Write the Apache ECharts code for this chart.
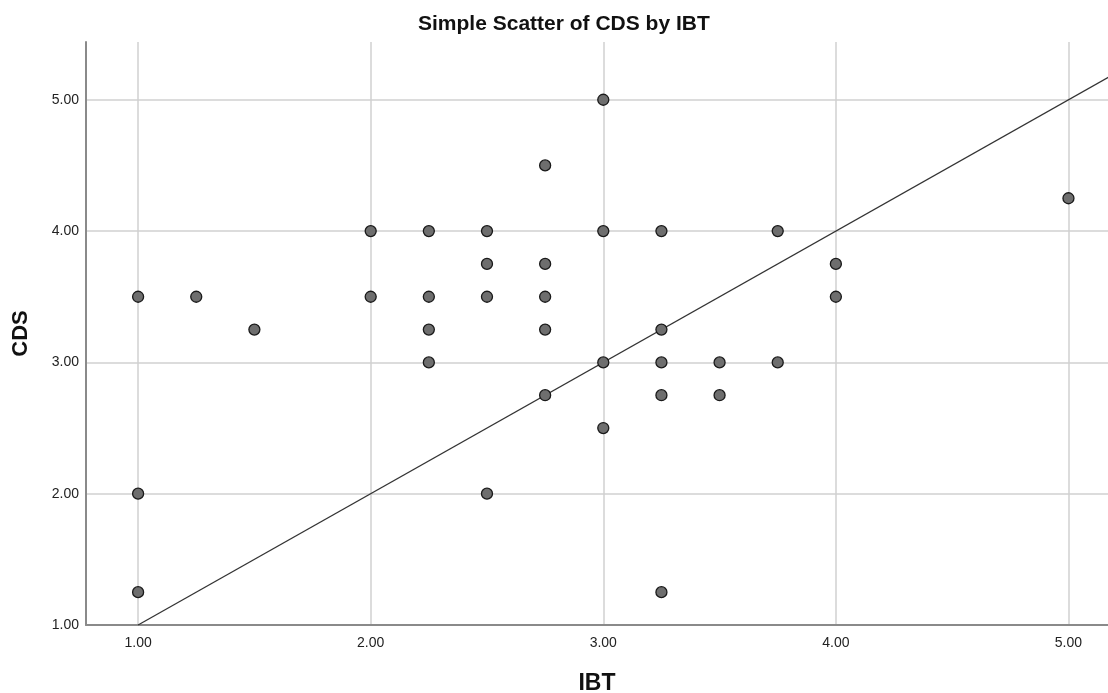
<!DOCTYPE html>
<html>
<head>
<meta charset="utf-8">
<script src="https://cdn.jsdelivr.net/npm/echarts@6/dist/echarts.min.js"></script>
<style>
    html,body{margin:0;padding:0;background:#fff;}
    #chart{width:1108px;height:693px;}
</style>
</head>
<body>
<div id="chart"></div>
<script>
    // 数据
    var ibt = [1, 1, 1, 1.25, 1.5, 2, 2, 2.25, 2.25, 2.25, 2.25, 2.5, 2.5, 2.5, 2.5,
        2.75, 2.75, 2.75, 2.75, 2.75, 3, 3, 3, 3, 3.25, 3.25, 3.25, 3.25, 3.25,
        3.5, 3.5, 3.75, 3.75, 4, 4, 5];
    var cds = [3.5, 2, 1.25, 3.5, 3.25, 4, 3.5, 4, 3.5, 3.25, 3, 4, 3.75, 3.5, 2,
        4.5, 3.75, 3.5, 3.25, 2.75, 5, 4, 3, 2.5, 4, 3.25, 3, 2.75, 1.25,
        3, 2.75, 4, 3, 3.75, 3.5, 4.25];
    var xTicks = [1, 2, 3, 4, 5];
    var yTicks = [1, 2, 3, 4, 5];
    var refLine = [[1, 1], [5.3, 5.3]];

    var points = ibt.map(function (v, i) { return [v, cds[i]]; });
    var font = 'Arial, "Liberation Sans", sans-serif';

    var myChart = echarts.init(document.getElementById('chart'));
    myChart.setOption({
        animation: false,
        title: {
            text: 'Simple Scatter of CDS by IBT',
            left: 413,
            top: 9,
            textStyle: {fontFamily: font, fontSize: 21, fontWeight: 'bold', color: '#111'}
        },
        grid: {left: 86, top: 42, right: 0, bottom: 68, outerBoundsMode: 'none'},
        xAxis: {
            type: 'value',
            min: 0.776,
            max: 5.17,
            name: 'IBT',
            nameLocation: 'middle',
            nameGap: 47,
            nameTextStyle: {fontFamily: font, fontSize: 23, fontWeight: 'bold', color: '#111'},
            axisLine: {show: true, lineStyle: {color: '#8a8a8a', width: 2}},
            axisTick: {show: false, customValues: xTicks},
            axisLabel: {
                customValues: xTicks,
                margin: 11,
                fontFamily: font, fontSize: 14, color: '#222',
                formatter: function (v) { return v.toFixed(2); }
            },
            splitLine: {show: true, lineStyle: {color: '#d0d0d0', width: 1.5}}
        },
        yAxis: {
            type: 'value',
            min: 1,
            max: 5.44,
            name: 'CDS',
            nameLocation: 'middle',
            nameGap: 54,
            nameTextStyle: {fontFamily: font, fontSize: 22, fontWeight: 'bold', color: '#111'},
            axisLine: {show: true, lineStyle: {color: '#8a8a8a', width: 2}},
            axisTick: {show: false, customValues: yTicks},
            axisLabel: {
                customValues: yTicks,
                margin: 7,
                fontFamily: font, fontSize: 14, color: '#222',
                formatter: function (v) { return v.toFixed(2); }
            },
            splitLine: {show: true, lineStyle: {color: '#d0d0d0', width: 1.5}}
        },
        series: [
            {
                type: 'line',
                data: refLine,
                symbol: 'none',
                silent: true,
                clip: true,
                lineStyle: {color: '#333', width: 1.3},
                z: 2
            },
            {
                type: 'scatter',
                data: points,
                symbol: 'circle',
                symbolSize: 11,
                itemStyle: {color: '#6e6e6e', borderColor: '#1a1a1a', borderWidth: 1.3, opacity: 1},
                z: 3
            }
        ]
    });
</script>
</body>
</html>
